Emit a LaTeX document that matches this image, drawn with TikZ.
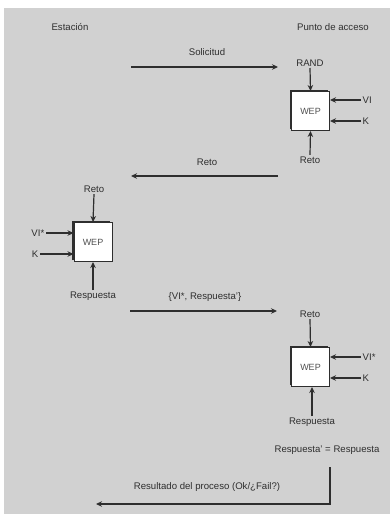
\documentclass[tikz,border=0pt]{standalone}
\usepackage{fontspec}
\setmainfont{Liberation Sans}
\usetikzlibrary{arrows.meta,shadows}
\definecolor{bggray}{HTML}{D1D1D1}
\definecolor{ink}{HTML}{2E2E2E}
\definecolor{weptext}{HTML}{505050}
\begin{document}
\begin{tikzpicture}[x=1pt,y=-1pt,
  lbl/.style={font=\fontsize{9.6}{11}\selectfont, text=ink, inner sep=1.5pt},
  arr/.style={draw=ink, line width=1.2pt, -{Stealth[length=6pt,width=5.5pt]}},
  ln/.style={draw=ink, line width=1.2pt},
  wep/.style={draw=ink, line width=1pt, fill=white, minimum width=38pt, minimum height=39pt,
    inner sep=0pt, font=\fontsize{9}{10}\selectfont, text=weptext,
    general shadow={fill=ink, shadow xshift=-1.6pt, shadow yshift=1.6pt}}]
\useasboundingbox (0,0) rectangle (390,514);
\fill[white] (0,0) rectangle (390,514);
\fill[bggray] (4,8) rectangle (390,514);

% titles
\node[lbl] (est) at (70,27) {Estación};
\node[lbl] (pa) at (333,27) {Punto de acceso};

% Solicitud
\coordinate (s1) at (131,67);
\coordinate (s2) at (278,67);
\draw[arr] (s1) -- (s2);
\node[lbl] (sol) at (207,52) {Solicitud};

% box 1 (access point)
\node[wep] (b1) at (310.5,111) {WEP};
\node[lbl] (rand) at (310,63) {RAND};
\draw[arr] (rand.south) -- (b1.north);
\node[lbl,anchor=west] (vi1) at (361,100) {VI};
\draw[arr] (vi1.west) -- (vi1.west -| b1.east);
\node[lbl,anchor=west] (k1) at (361,121) {K};
\draw[arr] (k1.west) -- (k1.west -| b1.east);
\node[lbl] (reto1) at (310,160) {Reto};
\draw[arr] (reto1.north) -- (b1.south);

% Reto arrow
\coordinate (r1) at (278,176);
\coordinate (r2) at (131,176);
\draw[arr] (r1) -- (r2);
\node[lbl] (retom) at (207,162) {Reto};

% box 2 (station)
\node[wep] (b2) at (93,242) {WEP};
\node[lbl] (reto2) at (94,189) {Reto};
\draw[arr] (reto2.south) -- (b2.north);
\node[lbl,anchor=east] (vi2) at (46,233) {VI*};
\draw[arr] (vi2.east) -- (vi2.east -| b2.west);
\node[lbl,anchor=east] (k2) at (40,254) {K};
\draw[arr] (k2.east) -- (k2.east -| b2.west);
\node[lbl] (resp2) at (93,296) {Respuesta};
\draw[arr] (resp2.north) -- (b2.south);

% VI*, Respuesta' arrow
\coordinate (v1) at (130,311);
\coordinate (v2) at (277,311);
\draw[arr] (v1) -- (v2);
\node[lbl] (vir) at (205,297) {\{VI*, Respuesta’\}};

% box 3 (access point)
\node[wep] (b3) at (310.5,367) {WEP};
\node[lbl] (reto3) at (310,314) {Reto};
\draw[arr] (reto3.south) -- (b3.north);
\node[lbl,anchor=west] (vi3) at (361,357) {VI*};
\draw[arr] (vi3.west) -- (vi3.west -| b3.east);
\node[lbl,anchor=west] (k3) at (361,378) {K};
\draw[arr] (k3.west) -- (k3.west -| b3.east);
\node[lbl] (resp3) at (312,422) {Respuesta};
\draw[arr] (resp3.north) -- (resp3.north |- b3.south);
\node[lbl] (eq) at (327,450) {Respuesta’ = Respuesta};

% result
\coordinate (c1) at (330,467);
\coordinate (c2) at (330,504);
\coordinate (c3) at (96,504);
\draw[arr] (c1) -- (c2) -- (c3);
\node[lbl] (res) at (207,487) {Resultado del proceso (Ok/¿Fail?)};
\end{tikzpicture}
\end{document}
